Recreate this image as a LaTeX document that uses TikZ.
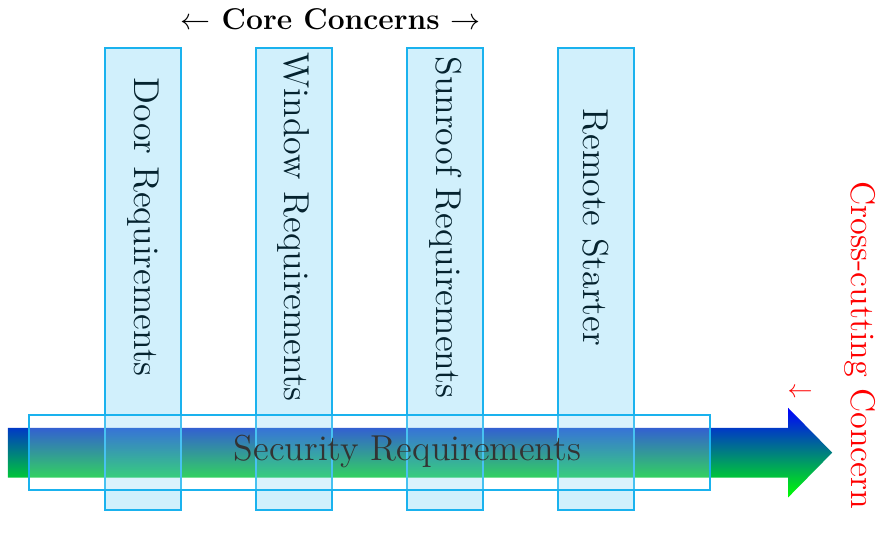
\documentclass[tikz,border=0pt]{standalone}
\usepackage{tikz}

\begin{document}
\begin{tikzpicture}
    % Define colours
    \definecolor{boxColour}{HTML}{1AB2EE}
    \definecolor{crossColour}{HTML}{FF0000}

    % Define layout values
    \def\colTop{6.89}
    \def\colBottom{0.39}
    \def\colWidth{1.07}
    \def\textLevel{4.37}

    \tikzset{
        reqtext/.style={rotate=-90, font=\Large, text=black},
        reqbox/.style={draw=boxColour, line width=0.8pt, fill=boxColour, fill opacity=0.2},
        crossbox/.style={draw=boxColour, line width=0.8pt, fill=white, fill opacity=0.2}
    }

    \useasboundingbox (0,0) rectangle (12.33,7.564);

    % Draw the cross-cutting arrow
    \coordinate (arrowStart) at (0.11,1.20);
    \coordinate (arrowTip) at (11.70,1.20);
    \shade[top color=blue, bottom color=green]
        (0.11,0.85) -- (11.08,0.85) -- (11.08,0.57) -- (arrowTip)
        -- (11.08,1.83) -- (11.08,1.55) -- (0.11,1.55) -- cycle;

    % Label the core concerns
    \node[reqtext] (doorText) at (2.01,\textLevel) {Door Requirements};
    \node[reqtext] (windowText) at (4.13,\textLevel) {Window Requirements};
    \node[reqtext] (sunroofText) at (6.26,\textLevel) {Sunroof Requirements};
    \node[reqtext] (remoteText) at (8.38,\textLevel) {Remote Starter};

    % Draw the core concern columns
    \foreach \x/\name in {2.01/door, 4.13/window, 6.26/sunroof, 8.38/remote}
        \draw[reqbox] (\x-\colWidth/2,\colBottom) rectangle (\x+\colWidth/2,\colTop)
            coordinate (\name Box);

    % Label and draw the cross-cutting concern
    \node[font=\Large] (securityText) at (5.73,1.22) {Security Requirements};
    \draw[crossbox] (0.41,0.675) rectangle (9.98,1.729) coordinate (securityBox);

    % Headings
    \node[font=\large\bfseries] (coreLabel) at (4.65,7.30) {$\leftarrow$ Core Concerns $\rightarrow$};
    \node[rotate=-90, font=\fontsize{13.7}{16}\selectfont, text=crossColour] (crossLabel) at (12.09,2.71) {Cross-cutting Concern};
    \node[text=crossColour] (crossArrow) at (11.25,2.04) {$\leftarrow$};

\end{tikzpicture}
\end{document}
